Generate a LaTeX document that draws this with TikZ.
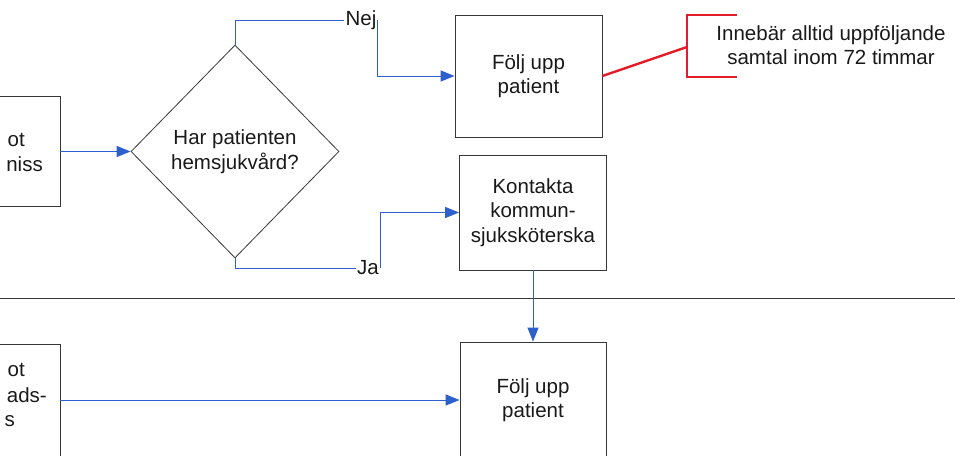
\documentclass[tikz,border=0pt]{standalone}
\usepackage{fontspec}
\setmainfont{Liberation Sans}
\usetikzlibrary{arrows.meta,shapes.geometric}
\definecolor{flowblue}{RGB}{45,95,205}
\definecolor{notered}{RGB}{228,28,40}
\definecolor{edgegray}{RGB}{55,55,55}
\begin{document}
\begin{tikzpicture}[x=1pt,y=-1pt,
  every node/.style={font=\fontsize{20.5}{24.5}\selectfont, text=black!90},
  box/.style={draw=edgegray, line width=0.8pt, rectangle, align=center, inner sep=0pt},
  decision/.style={draw=edgegray, line width=0.8pt, diamond, align=center, inner sep=0pt,
    minimum width=208pt, minimum height=213pt, aspect=0.976},
  lbl/.style={inner sep=1pt},
  flowline/.style={draw=flowblue, line width=0.9pt},
  flow/.style={flowline, -{Triangle[length=14pt,width=11pt]}},
  bracket/.style={draw=notered, line width=2.4pt}]
\useasboundingbox (0,0) rectangle (955,455);
\clip (0,0) rectangle (955,455);

% lane divider
\draw[edgegray, line width=0.8pt] (0,298) -- (955,298);

% boxes entering from the left margin
\node[box, minimum width=100pt, minimum height=110pt] (inA) at (10,151.5) {};
\node[lbl, anchor=east] (inAa) at (26,140) {ot};
\node[lbl, anchor=east] (inAb) at (44,164) {niss};

\node[box, minimum width=100pt, minimum height=112pt] (inB) at (10,400) {};
\node[lbl, anchor=east] (inBa) at (26,370) {ot};
\node[lbl, anchor=east] (inBb) at (48,395) {ads-};
\node[lbl, anchor=east] (inBc) at (16,421) {s};

% decision
\node[decision] (dec) at (235,151.5) {Har patienten\\hemsjukvård?};

% process boxes
\node[box, minimum width=147pt, minimum height=122pt] (follow1) at (528.5,76) {Följ upp\\patient};
\node[box, minimum width=147pt, minimum height=115pt] (contact) at (533,212.5) {Kontakta\\kommun-\\sjuksköterska};
\node[box, minimum width=146pt, minimum height=116pt] (follow2) at (533,400) {Följ upp\\patient};

% branch labels
\node[lbl] (nej) at (361,20) {Nej};
\node[lbl] (ja) at (368,268) {Ja};

% connectors
\draw[flow] (inA.east) -- (dec.west);
\draw[flowline] (dec.north) |- (nej.west);
\draw[flow] (nej.east) |- (follow1.west);
\draw[flowline] (dec.south) |- (ja.west);
\draw[flow] (ja.east) |- (contact.west);
\draw[flow] (contact.south) -- (follow2.north);
\draw[flow] (inB.east) -- (follow2.west);

% remark with red bracket
\node[lbl, align=center] (note) at (831,45) {Innebär alltid uppföljande\\samtal inom 72 timmar};
\coordinate (brk) at (687,47);
\draw[bracket] (follow1.east) -- (brk);
\draw[bracket] (737,15) -- (687,15) -- (687,77) -- (737,77);
\end{tikzpicture}
\end{document}
